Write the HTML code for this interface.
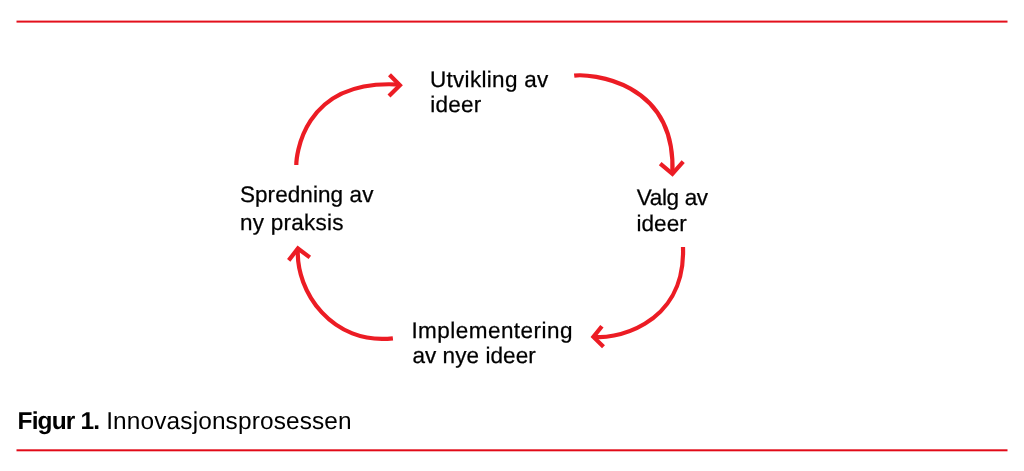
<!DOCTYPE html>
<html><head><meta charset="utf-8"><style>
html,body{margin:0;padding:0;background:#fff;}
body{width:1024px;height:471px;overflow:hidden;position:relative;}
svg{position:absolute;left:0;top:0;will-change:transform;}
text{font-family:"Liberation Sans",sans-serif;fill:#000;text-rendering:geometricPrecision;}
.l{font-size:22.5px;stroke:#000;stroke-width:0.25px;}
</style></head><body>
<svg width="1024" height="471" viewBox="0 0 1024 471">
<rect x="16.5" y="20.6" width="991" height="2" fill="#E3101C"/>
<rect x="16.5" y="449.3" width="991" height="2" fill="#E20A18"/>
<g fill="none" stroke="#EC1C24" stroke-width="4.2">
<path d="M296.3 164.9C296.3 160 299.9 78.4 399.9 84.6"/>
<path d="M389.5 74.8L399.9 85.3L389 96"/>
<path d="M574.2 75.6C589 73.7 676.5 79.6 672.4 174"/>
<path d="M660.2 163.7L672.4 173.8L683.2 161.6"/>
<path d="M683 247C685.9 328.8 608.1 340.1 593.4 336.5"/>
<path d="M601.9 326.2L593.4 336.9L603.5 346.7"/>
<path d="M392.9 338.3C332.7 345.4 295.3 292.1 297.9 248.5"/>
<path d="M288.7 260.4L297.9 248.5L309.8 257.4"/>
</g>
<text id="A1" class="l" x="429.91" y="86.9" style="letter-spacing:0.310px">Utvikling av</text>
<text id="A2" class="l" x="430.37" y="112.4" style="letter-spacing:0.231px">ideer</text>
<text id="B1" class="l" x="636.78" y="204.9" style="letter-spacing:-0.339px">Valg av</text>
<text id="B2" class="l" x="636.45" y="230.6" style="letter-spacing:0.082px">ideer</text>
<text id="C1" class="l" x="239.88" y="201.9" style="letter-spacing:0.083px">Spredning av</text>
<text id="C2" class="l" x="239.98" y="229.7" style="letter-spacing:0.254px">ny praksis</text>
<text id="D1" class="l" x="411.42" y="337.9" style="letter-spacing:0.457px">Implementering</text>
<text id="D2" class="l" x="412.42" y="363.1" style="letter-spacing:0.067px">av nye ideer</text>
<text id="cap1" x="17.50" y="429.4" style="font-size:24.5px;font-weight:bold;letter-spacing:-0.833px">Figur 1.</text>
<text id="cap2" x="106.21" y="429.4" style="font-size:24.4px;letter-spacing:0.143px">Innovasjonsprosessen</text>
</svg>
</body></html>
